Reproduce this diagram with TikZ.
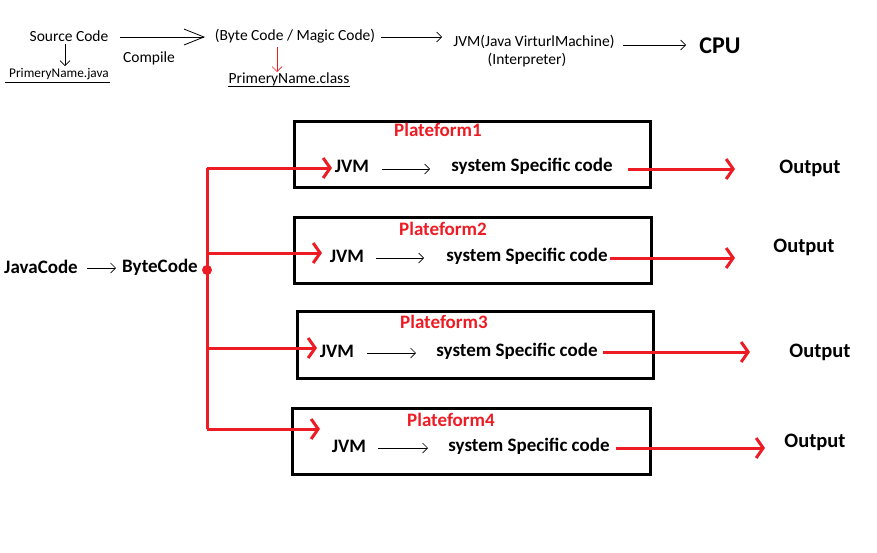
\documentclass[tikz,border=0pt]{standalone}
\usepackage{fontspec}
\setmainfont{Carlito}
\usetikzlibrary{arrows.meta}
\definecolor{jred}{HTML}{ED1C24}
\begin{document}
\begin{tikzpicture}[x=1pt,y=-1pt,
  txt/.style={inner sep=0pt,font=\fontsize{15.5}{18}\selectfont},
  btxt/.style={inner sep=0pt,font=\fontsize{19}{21}\selectfont\bfseries},
  ptitle/.style={inner sep=0pt,text=jred,font=\fontsize{19}{21}\selectfont\bfseries},
  outtxt/.style={inner sep=0pt,font=\fontsize{20.5}{23}\selectfont\bfseries},
  platbox/.style={draw,line width=3pt},
  thinarr/.style={-{Straight Barb[length=5pt,width=10pt]},line width=0.7pt},
  bigarr/.style={-{Straight Barb[length=20pt,width=16pt]},line width=0.8pt},
  redline/.style={jred,line width=3pt},
  redarr/.style={jred,line width=3pt,-{Straight Barb[length=7pt,width=20pt]}},
  ]
\useasboundingbox (0,0) rectangle (877,552);
% ---------- top row ----------
\node[txt] (src) at (69,36) {Source Code};
\node[txt,font=\fontsize{13.3}{15}\selectfont] (pjava) at (59,74) {PrimeryName.java};
\coordinate (ulja) at (5,82); \coordinate (uljb) at (110,82);
\draw[line width=0.8pt] (ulja) -- (uljb);
\coordinate (sdown) at (65,66);
\draw[thinarr] (65,44) -- (sdown);
\node[txt] (byte) at (295,36) {(Byte Code / Magic Code)};
\node[txt] (comp) at (149,58) {Compile};
\coordinate (c1) at (120,37);
\draw[bigarr] (c1) -- (205,37);
\node[txt] (pclass) at (289,79) {PrimeryName.class};
\coordinate (ulca) at (228,86); \coordinate (ulcb) at (350,86);
\draw[line width=0.8pt] (ulca) -- (ulcb);
\draw[jred,line width=0.7pt,-{Straight Barb[length=5pt,width=10pt]}] (277,47) -- (277,72);
\node[txt] (jvmt) at (534,42) {JVM(Java VirturlMachine)};
\node[txt] (interp) at (527,60) {(Interpreter)};
\draw[thinarr] (381,37) -- (442,37);
\node[inner sep=0pt,font=\fontsize{24}{27}\selectfont\bfseries] (cpu) at (720,46) {CPU};
\draw[thinarr] (623,45) -- (686,45);
% ---------- left ----------
\node[btxt] (jc) at (41,267) {JavaCode};
\node[btxt] (bc) at (160,267) {ByteCode};
\draw[thinarr] (87,268) -- (116,268);
\coordinate (dot) at (207,270);
\fill[jred] (dot) circle (5);
% ---------- platforms ----------
% box 1
\draw[platbox] (294,121) rectangle (650,187);
\node[ptitle] (p1) at (438,130) {Plateform1};
\node[btxt] (jvm1) at (352,166) {JVM};
\node[btxt] (ssc1) at (532,166) {system Specific code};
\draw[thinarr] (382,169) -- (430,169);
\node[outtxt] (out1) at (810,168) {Output};
% box 2
\draw[platbox] (294,217) rectangle (651,283);
\node[ptitle] (p2) at (443,229) {Plateform2};
\node[btxt] (jvm2) at (347,256) {JVM};
\node[btxt] (ssc2) at (527,256) {system Specific code};
\draw[thinarr] (376,258) -- (424,258);
\node[outtxt] (out2) at (804,247) {Output};
% box 3
\draw[platbox] (297,311) rectangle (653,378);
\node[ptitle] (p3) at (444,322) {Plateform3};
\node[btxt] (jvm3) at (337,351) {JVM};
\node[btxt] (ssc3) at (517,351) {system Specific code};
\draw[thinarr] (367,353) -- (416,353);
\node[outtxt] (out3) at (820,352) {Output};
% box 4
\draw[platbox] (292,408) rectangle (650,474);
\node[ptitle] (p4) at (451,420) {Plateform4};
\node[btxt] (jvm4) at (349,446) {JVM};
\node[btxt] (ssc4) at (529,446) {system Specific code};
\draw[thinarr] (378,448) -- (428,448);
\node[outtxt] (out4) at (815,442) {Output};
% ---------- red connectors ----------
\coordinate (t1) at (207,168); \coordinate (t4) at (207,429);
\draw[redline,line cap=butt] (t1) -- (t4);
\draw[redarr] (t1) -- (332,168);
\draw[redarr] (207,253) -- (322,253);
\draw[redarr] (207,348) -- (317,348);
\draw[redarr] (t4) -- (320,429);
\draw[redarr] (628,169) -- (735,169);
\draw[redarr] (610,258) -- (735,258);
\draw[redarr] (603,352) -- (750,352);
\draw[redarr] (616,448) -- (765,448);
\end{tikzpicture}
\end{document}
